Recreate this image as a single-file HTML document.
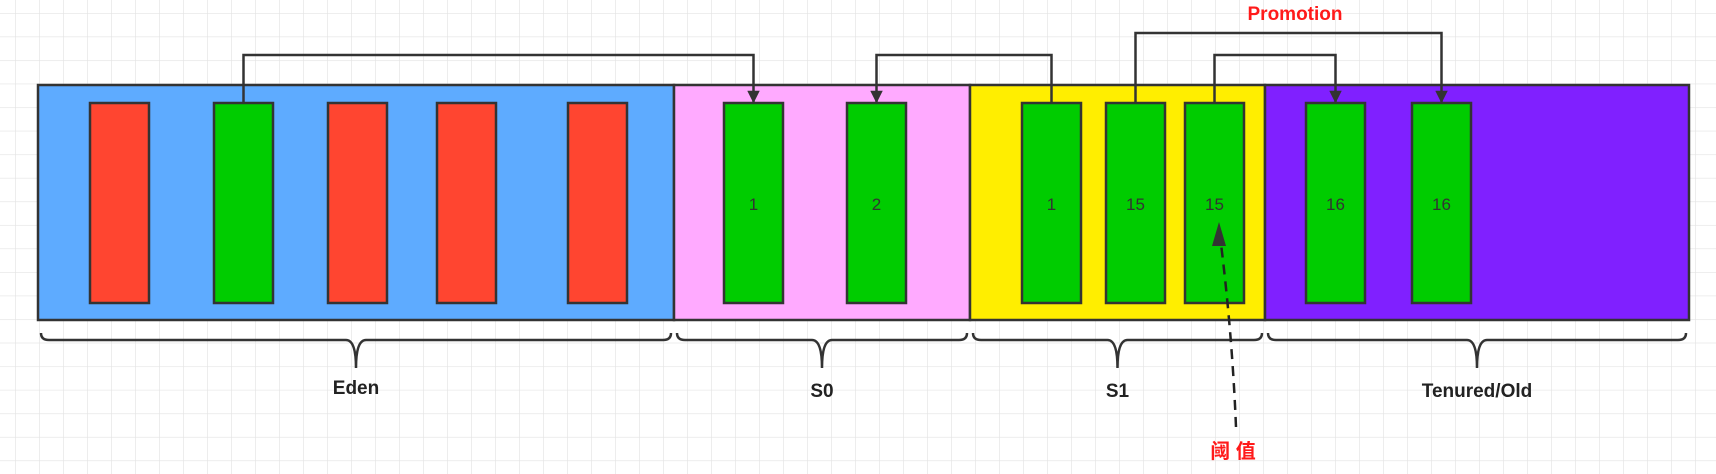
<!DOCTYPE html>
<html><head><meta charset="utf-8"><style>
html,body{margin:0;padding:0;background:#fff;}
svg{display:block;}
text{font-family:"Liberation Sans","Noto Sans CJK SC",sans-serif;}
</style></head><body>
<svg id="chart" width="1716" height="474" viewBox="0 0 1716 474" xmlns="http://www.w3.org/2000/svg">
<defs>
<pattern id="grid" x="15" y="13" width="24" height="23.55" patternUnits="userSpaceOnUse">
<path d="M0 0 H24 M0 0 V23.55" stroke="#e3e3e3" stroke-width="1.3" fill="none"/>
</pattern>
<marker id="arr" viewBox="0 0 10 10" refX="9" refY="5" markerWidth="7" markerHeight="5" orient="auto" markerUnits="strokeWidth">
<path d="M0 0 L10 5 L0 10 z" fill="#333"/>
</marker>
</defs>
<rect width="1716" height="474" fill="url(#grid)"/>
<g id="regions"></g>
<g id="bars"></g>
<g id="arrows"></g>
<g id="braces"></g>
<text x="1295" y="20" text-anchor="middle" font-size="19" font-weight="bold" fill="#ff1a1a">Promotion</text>
<path d="M1236 427 Q1232 330 1220 236" stroke="#222" stroke-width="2.5" stroke-dasharray="10,7" fill="none"/>
<path d="M1219 222 L1212 246 L1226 246 z" fill="#333"/>
<text x="1233" y="458" text-anchor="middle" font-size="20" font-weight="bold" fill="#ff1a1a">阈 值</text>
</svg>
<script>
const regionNames=['Eden','S0','S1','Tenured/Old'];
const regionEdges=[38,674,970,1265,1689];
const regionColors=['#5eabff','#ffaaff','#ffee00','#8020ff'];
const barLefts=[90,214,328,437,568,724,847,1022,1106,1185,1306,1412];
const barColors=['#ff4530','#00cc00','#ff4530','#ff4530','#ff4530','#00cc00','#00cc00','#00cc00','#00cc00','#00cc00','#00cc00','#00cc00'];
const barLabels=['','','','','','1','2','1','15','15','16','16'];
const arrowFrom=[1,7,8,9];
const arrowTo=[5,6,11,10];
const arrowLevel=[55,55,33,55];
const NS='http://www.w3.org/2000/svg';
const TOP=85,BOT=320,BT=103,BB=303,BW=59;
function mk(t,a,p){const e=document.createElementNS(NS,t);for(const k in a)e.setAttribute(k,a[k]);p.appendChild(e);return e;}
const gR=document.getElementById('regions');
for(let i=0;i<regionNames.length;i++){
 const r=mk('rect',{x:regionEdges[i],y:TOP,width:regionEdges[i+1]-regionEdges[i],height:BOT-TOP,fill:regionColors[i],stroke:'#333','stroke-width':2.5},gR);
 
 
}
const gB=document.getElementById('bars');
for(let i=0;i<barLefts.length;i++){
 const r=mk('rect',{x:barLefts[i],y:BT,width:BW,height:BB-BT,fill:barColors[i],stroke:'#333','stroke-width':2.5},gB);
 
 
 if(barLabels[i]){
  const t=mk('text',{x:barLefts[i]+BW/2,y:210,'text-anchor':'middle','font-size':17,fill:'#333'},gB);
  t.textContent=barLabels[i];
  
  
 }
}
const gA=document.getElementById('arrows');
for(let i=0;i<arrowFrom.length;i++){
 const x1=barLefts[arrowFrom[i]]+BW/2,x2=barLefts[arrowTo[i]]+BW/2,y=arrowLevel[i];
 const p=mk('path',{d:`M${x1} ${BT} V${y} H${x2} V${BT-1}`,stroke:'#333','stroke-width':2.5,fill:'none','marker-end':'url(#arr)'},gA);
 
 
}
const gC=document.getElementById('braces');
for(let i=0;i<regionNames.length;i++){
 const a=regionEdges[i]+3,b=regionEdges[i+1]-3,m=(a+b)/2,y0=333,y1=340,tip=368;
 const p=mk('path',{d:`M${a} ${y0} Q${a} ${y1} ${a+8} ${y1} H${m-10} Q${m} ${y1} ${m} ${tip} Q${m} ${y1} ${m+10} ${y1} H${b-8} Q${b} ${y1} ${b} ${y0}`,stroke:'#333','stroke-width':2.5,fill:'none'},gC);
 
 
 const t=mk('text',{x:m,y:i==0?394:397,'text-anchor':'middle','font-size':19,'font-weight':'bold',fill:'#222'},gC);
 t.textContent=regionNames[i];
 
 
}
</script>
</body></html>
